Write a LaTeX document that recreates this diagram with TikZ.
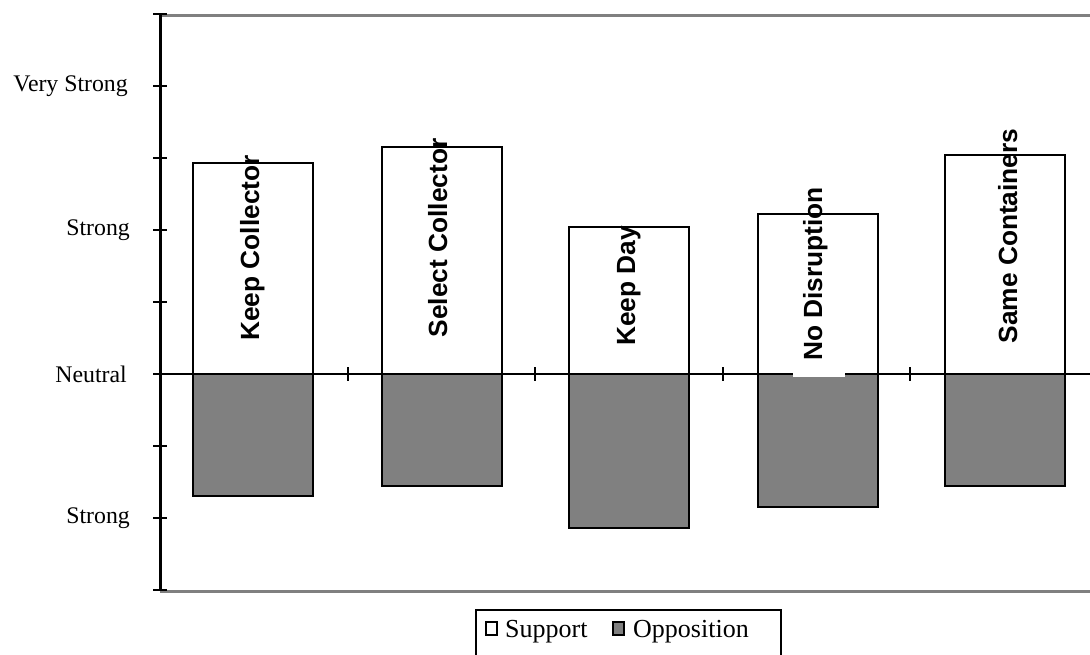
\documentclass[tikz,border=0pt]{standalone}
\usepackage{fontspec}
\setmainfont{Liberation Serif}
\setsansfont{Liberation Sans}

\definecolor{oppgray}{RGB}{128,128,128}

\begin{document}
\begin{tikzpicture}[x=1pt,y=-1pt,
    frame/.style={draw=oppgray,line width=3pt},
    bar/.style={draw=black,line width=2.5pt},
    axtick/.style={line width=2.5pt},
    scalelabel/.style={anchor=east,inner sep=0pt,font=\fontsize{23.8}{26}\selectfont},
    barlabel/.style={rotate=90,anchor=base,inner sep=0pt,font=\sffamily\bfseries\fontsize{26.3}{30}\selectfont},
    legendtext/.style={anchor=base west,inner sep=0pt,font=\fontsize{26}{28}\selectfont}]

    \useasboundingbox (0,0) rectangle (1090,654);

    % plot frame
    \draw[frame] (160,15) -- (1094,15);
    \draw[frame] (160,591) -- (1094,591);

    % bars: left / support top / opposition bottom
    \foreach \l/\t/\b in {193/163/496, 382/147/486, 569/227/528, 758/214/507, 945/155/486}{
        \draw[bar,fill=white] (\l,\t) rectangle ({\l+120},374);
        \draw[bar,fill=oppgray] (\l,374) rectangle ({\l+120},\b);
    }

    % value axis
    \draw[line width=3pt] (160,14) -- (160,591);
    \foreach \y in {14,86,...,590}
        \draw[axtick] (153,\y) -- (167,\y);

    \node[scalelabel] (vstrong) at (128,86) {Very Strong};
    \node[scalelabel] (strong) at (130,230) {Strong};
    \node[scalelabel] (neutral) at (127,374) {Neutral};
    \node[scalelabel] (ostrong) at (130,518) {Strong};

    % category axis
    \draw[line width=2.5pt] (160,374) -- (1094,374);
    \foreach \x in {348,535,723,910}
        \draw[line width=2pt] (\x,367) -- (\x,381);

    \fill[white] (793,372) rectangle (845,377);

    \node[barlabel] (keepcol) at (259,248) {Keep Collector};
    \node[barlabel] (selcol) at (447,238) {Select Collector};
    \node[barlabel] (keepday) at (635,286) {Keep Day};
    \node[barlabel] (nodisr) at (822,274) {No Disruption};
    \node[barlabel] (samecont) at (1017,236) {Same Containers};

    % legend
    \draw[line width=2.5pt] (476,664) |- (781,610) -- (781,664);
    \draw[line width=2pt,fill=white] (486,622) rectangle (497,635);
    \node[legendtext] (support) at (505,637) {Support};
    \draw[line width=2pt,fill=oppgray] (613,622) rectangle (624,635);
    \node[legendtext] (opposition) at (633,637) {Opposition};

\end{tikzpicture}
\end{document}
